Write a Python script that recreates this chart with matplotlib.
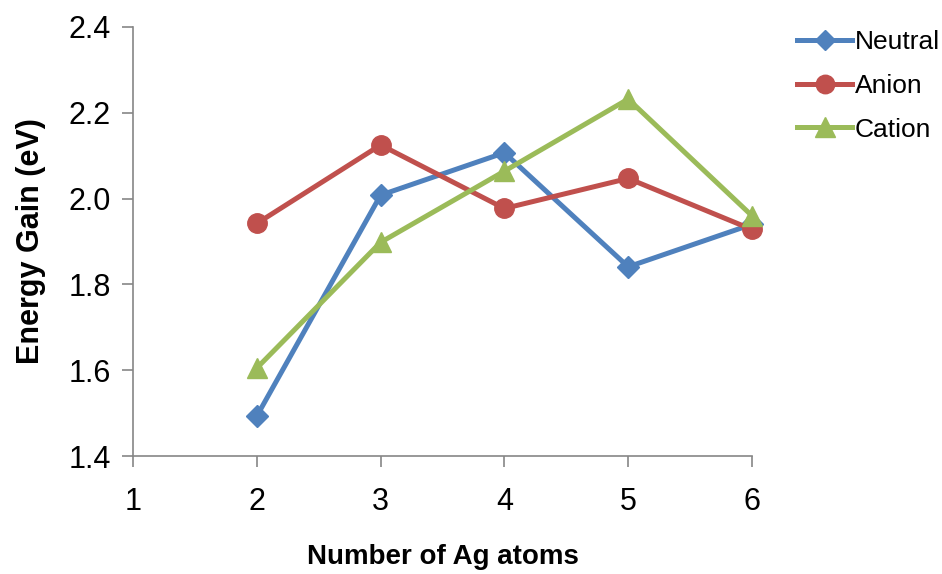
import matplotlib.pyplot as plt

plt.rcParams["font.family"] = ["Liberation Sans", "DejaVu Sans"]

atoms = [2, 3, 4, 5, 6]
neutral = [1.493, 2.008, 2.107, 1.841, 1.940]
anion = [1.942, 2.125, 1.977, 2.047, 1.928]
cation = [1.605, 1.898, 2.064, 2.232, 1.960]

series = [
    ("Neutral", neutral, "#4F81BD", "D", 11),
    ("Anion", anion, "#C0504D", "o", 14),
    ("Cation", cation, "#9BBB59", "^", 15),
]

fig = plt.figure(figsize=(9.42, 5.74), dpi=100)
ax = fig.add_axes([133 / 942, 1 - 456 / 574, (752 - 133) / 942, (456 - 27) / 574])

for name, values, color, marker, size in series:
    ax.plot(atoms, values, color=color, marker=marker, markersize=size,
            linewidth=3.6, label=name, clip_on=False)

ax.set_xlim(1, 6)
ax.set_ylim(1.4, 2.4)
ax.set_xticks([1, 2, 3, 4, 5, 6])
ax.set_yticks([1.4, 1.6, 1.8, 2.0, 2.2, 2.4])
ax.set_yticklabels(["1.4", "1.6", "1.8", "2.0", "2.2", "2.4"])

for side in ("top", "right"):
    ax.spines[side].set_visible(False)
for side in ("left", "bottom"):
    ax.spines[side].set_color("#868686")
    ax.spines[side].set_linewidth(1.2)
ax.tick_params(axis="both", direction="out", length=8, width=1.2,
               color="#868686", labelsize=22, pad=8)
ax.tick_params(axis="x", pad=14)

ax.set_xlabel("Number of Ag atoms", fontsize=20, fontweight="bold", labelpad=20)
ax.set_ylabel("Energy Gain (eV)", fontsize=22, fontweight="bold", labelpad=16)

fig.legend(loc="upper left", bbox_to_anchor=(797 / 942, 1 - 30 / 574),
           frameon=False, fontsize=19, borderpad=0, borderaxespad=0,
           handlelength=2.1, handletextpad=0.1, labelspacing=0.75,
           markerscale=0.95)

fig.savefig("out.png", dpi=100)
